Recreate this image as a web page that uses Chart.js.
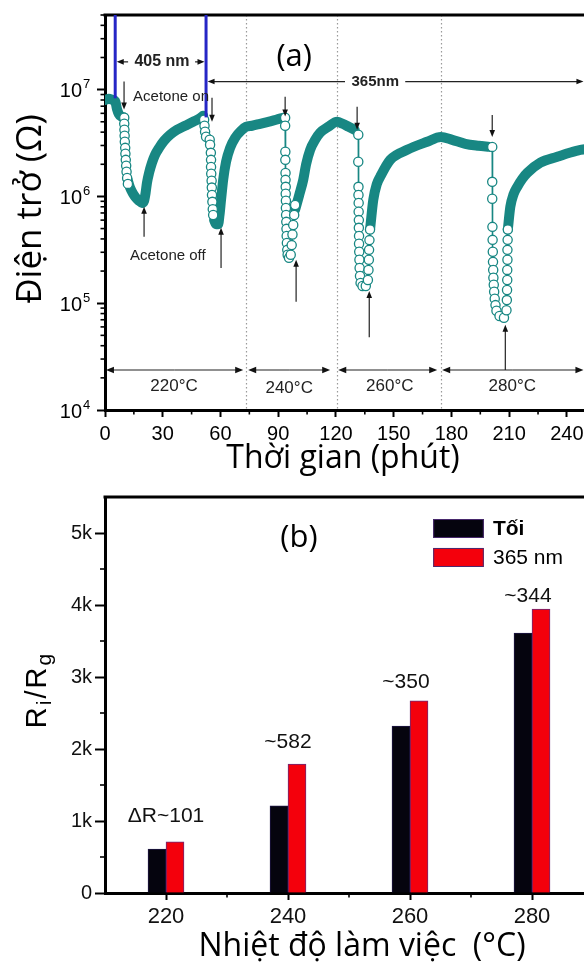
<!DOCTYPE html>
<html>
<head>
<meta charset="utf-8">
<script src="https://cdn.jsdelivr.net/npm/chart.js@4.4.1/dist/chart.umd.min.js"></script>
<style>
  html, body { margin: 0; padding: 0; background: #fff; overflow: hidden; }
  body { width: 584px; height: 962px; position: relative; }
  .panel { position: absolute; left: 0; width: 620px; }
  #panelA { top: 0; height: 485px; }
  #panelB { top: 470px; height: 492px; }
</style>
</head>
<body>
<div class="panel" id="panelA"><canvas id="resistanceChart" width="620" height="485"></canvas></div>
<div class="panel" id="panelB"><canvas id="responseChart" width="620" height="492"></canvas></div>
<script>
// ---------------------------------------------------------------
// (a) sensor resistance over time, one list per stretch of trace
// ---------------------------------------------------------------
// dense recovery stretches (drawn as a thick trace)
const traceMinutes = [
    [0, 2, 4, 5.3, 6.2, 7.2, 8.5, 9.8],
    [11.8, 13.0, 14.6, 16.1, 17.7, 19.2, 20.3, 21.1, 21.8, 22.9, 24.4, 26.0, 28.1, 30.7, 33.8, 37.4, 41.6, 45.8, 49.4, 51.0],
    [56.7, 57.7, 58.8, 59.5, 60.3, 61.4, 62.9, 65.0, 67.6, 70.7, 73.3, 76.4, 80.6, 84.8, 88.9, 92.6],
    [98.8, 100.9, 103.0, 104.5, 106.6, 109.2, 111.8, 116.0, 120.6, 123.5, 126.6, 129.7],
    [137.8, 139.4, 141.2, 143.0, 148.2, 157.0, 167.4, 174.5, 180.4, 187.2, 194.0, 199.8],
    [209.3, 210.6, 212.3, 214.2, 216.8, 219.4, 226.2, 235.0, 241.0, 247.0, 252.0],
];
const traceOhms = [
    [8.0e6, 8.2e6, 8.0e6, 7.8e6, 6.6e6, 5.9e6, 5.6e6, 5.5e6],
    [1.43e6, 1.21e6, 1.06e6, 9.7e5, 9.1e5, 8.7e5, 9.1e5, 1.08e6, 1.34e6, 1.66e6, 2.06e6, 2.45e6, 2.85e6, 3.32e6, 3.78e6, 4.21e6, 4.59e6, 5.0e6, 5.4e6, 5.7e6],
    [6.0e5, 5.5e5, 5.5e5, 6.7e5, 9.3e5, 1.43e6, 2.11e6, 2.85e6, 3.54e6, 4.12e6, 4.49e6, 4.59e6, 4.79e6, 5.0e6, 5.22e6, 5.46e6],
    [7.5e5, 1.03e6, 1.43e6, 2.0e6, 2.73e6, 3.39e6, 3.96e6, 4.49e6, 5.0e6, 4.79e6, 4.49e6, 4.21e6],
    [5.08e5, 9.3e5, 1.3e6, 1.53e6, 2.2e6, 2.73e6, 3.25e6, 3.6e6, 3.39e6, 3.11e6, 2.98e6, 2.91e6],
    [4.9e5, 8.0e5, 1.05e6, 1.23e6, 1.46e6, 1.66e6, 2.07e6, 2.35e6, 2.55e6, 2.73e6, 2.8e6],
];
// sparse readings while acetone is switched on/off (open circles)
const pulseMinutes = [
    [10.0, 10.0, 10.1, 10.2, 10.3, 10.5, 10.6, 10.8, 11.0, 11.2, 11.5, 11.9],
    [51.5, 51.7, 52.0, 52.5, 54.4, 54.6, 55.0, 55.1, 55.1, 55.2, 55.4, 55.5, 55.6, 55.8, 56.0, 56.2],
    [93.6, 93.6, 93.7, 93.7, 93.8, 93.8, 93.9, 93.9, 94.0, 94.0, 94.1, 94.2, 94.3, 94.4, 94.5, 94.7, 94.9, 95.6, 96.5, 97.0, 97.4, 97.8, 98.3, 98.8],
    [131.6, 131.6, 131.7, 131.7, 131.8, 131.8, 131.9, 131.9, 132.0, 132.0, 132.1, 132.2, 132.3, 132.5, 132.8, 133.8, 135.5, 136.6, 136.9, 137.1, 137.2, 137.4, 137.7],
    [201.2, 201.2, 201.2, 201.3, 201.4, 201.5, 201.6, 201.7, 201.8, 202.0, 202.2, 202.5, 202.9, 203.4, 205.0, 207.3, 208.6, 208.8, 208.9, 209.0, 209.0, 209.1, 209.1, 209.2, 209.3],
];
const pulseOhms = [
    [5.46e6, 4.79e6, 4.21e6, 3.70e6, 3.25e6, 2.85e6, 2.51e6, 2.20e6, 1.94e6, 1.70e6, 1.49e6, 1.31e6],
    [5.22e6, 4.59e6, 4.03e6, 3.62e6, 3.40e6, 3.05e6, 2.56e6, 2.20e6, 1.89e6, 1.63e6, 1.40e6, 1.21e6, 1.03e6, 8.9e5, 7.6e5, 6.7e5],
    [5.46e6, 4.59e6, 2.62e6, 2.20e6, 1.66e6, 1.43e6, 1.23e6, 1.06e6, 9.1e5, 7.8e5, 6.7e5, 5.78e5, 4.97e5, 4.27e5, 3.67e5, 3.16e5, 2.84e5, 2.66e5, 2.84e5, 3.5e5, 4.4e5, 5.4e5, 6.7e5, 8.3e5],
    [3.78e6, 2.11e6, 1.23e6, 1.03e6, 8.7e5, 7.2e5, 6.0e5, 5.08e5, 4.27e5, 3.6e5, 3.03e5, 2.55e5, 2.14e5, 1.8e5, 1.55e5, 1.45e5, 1.45e5, 1.65e5, 2.05e5, 2.55e5, 3.16e5, 3.9e5, 4.9e5],
    [2.91e6, 1.37e6, 9.5e5, 5.19e5, 3.92e5, 3.03e5, 2.44e5, 2.05e5, 1.73e5, 1.49e5, 1.28e5, 1.1e5, 9.6e4, 8.5e4, 7.6e4, 7.3e4, 8.6e4, 1.07e5, 1.33e5, 1.65e5, 2.05e5, 2.55e5, 3.16e5, 3.92e5, 4.9e5],
];
const minuteTicks = [0, 30, 60, 90, 120, 150, 180, 210, 240];
const decadeTicks = [1e4, 1e5, 1e6, 1e7];

// markers drawn over panel (a)
const lampMinutes = [5.3, 52.5];
const lampEndOhms = [8.3e6, 5.5e6];
const gasOnMinutes = [9.9, 55.6, 93.6, 131.0, 201.2];
const gasOnOhms = [[1.19e7, 6.5e6], [8.4e6, 5.0e6], [8.6e6, 5.6e6], [6.9e6, 4.2e6], [5.8e6, 3.6e6]];
const gasOffMinutes = [20.3, 60.3, 99.3, 137.3, 208.0];
const gasOffOhms = [[4.2e5, 8.0e5], [2.14e5, 5.1e5], [1.03e5, 2.55e5], [4.8e4, 1.3e5], [2.37e4, 6.3e4]];
const stageLabels = ['220°C', '240°C', '260°C', '280°C'];
const stageSpans = [[0.5, 71.8], [74.4, 117.0], [121.2, 172.6], [175.2, 248.6]];
const stageLabelMinutes = [35.9, 95.7, 148.0, 211.6];
const stageDividers = [73.3, 120.6, 174.7];

// ---------------------------------------------------------------
// (b) response ratio at each working temperature
// ---------------------------------------------------------------
const temperatures = [220, 240, 260, 280];
const darkRatio = [610, 1210, 2320, 3610];
const uvRatio = [710, 1790, 2670, 3944];
const deltaNotes = ['\u0394R~101', '~582', '~350', '~344'];
const deltaNoteRatio = [1070, 2100, 2930, 4120];
const ratioTicks = [0, 1000, 2000, 3000, 4000, 5000];
const seriesNames = ['Tối', '365 nm'];

const TEAL = '#188783';
const LAMP_BLUE = '#2626c6';
const ARIAL = '"Liberation Sans", Arial, sans-serif';
const TITLE = '"Open Sans", sans-serif';

function joinSegments(xs, ys) {
    const out = [];
    xs.forEach(function (seg, s) {
        seg.forEach(function (x, i) { out.push({ x: x, y: ys[s][i] }); });
        out.push({ x: seg[seg.length - 1], y: null });
    });
    return out;
}

function arrow(ctx, x1, y1, x2, y2, head) {
    const a = Math.atan2(y2 - y1, x2 - x1);
    const c = Math.cos(a), s = Math.sin(a);
    ctx.beginPath();
    ctx.moveTo(x1, y1);
    ctx.lineTo(x2 - c * head * 0.7, y2 - s * head * 0.7);
    ctx.stroke();
    ctx.beginPath();
    ctx.moveTo(x2, y2);
    ctx.lineTo(x2 - head * c + head * 0.4 * s, y2 - head * s - head * 0.4 * c);
    ctx.lineTo(x2 - head * c - head * 0.4 * s, y2 - head * s + head * 0.4 * c);
    ctx.closePath();
    ctx.fill();
}

function frameTop(ctx, area) {
    ctx.save();
    ctx.strokeStyle = '#000';
    ctx.lineWidth = 3;
    ctx.beginPath();
    ctx.moveTo(area.left - 1.5, area.top);
    ctx.lineTo(area.right + 2, area.top);
    ctx.stroke();
    ctx.restore();
}

const axisBorder = { display: true, color: '#000', width: 3 };

// ---------------- panel (a) overlay ----------------
const resistanceOverlay = {
    id: 'resistanceOverlay',
    beforeDatasetsDraw(chart) {
        const ctx = chart.ctx, x = chart.scales.x, area = chart.chartArea;
        ctx.save();
        ctx.strokeStyle = '#9a9a9a';
        ctx.lineWidth = 1.2;
        ctx.setLineDash([1.5, 2.5]);
        stageDividers.forEach(function (t) {
            const px = Math.round(x.getPixelForValue(t)) + 0.5;
            ctx.beginPath();
            ctx.moveTo(px, area.top);
            ctx.lineTo(px, area.bottom);
            ctx.stroke();
        });
        ctx.restore();
    },
    afterDraw(chart) {
        const ctx = chart.ctx, x = chart.scales.x, y = chart.scales.y, area = chart.chartArea;
        frameTop(ctx, area);
        ctx.save();

        // minor ticks
        ctx.strokeStyle = '#000';
        ctx.lineWidth = 1.6;
        for (let t = 15; t < 252; t += 30) {
            const px = x.getPixelForValue(t);
            ctx.beginPath(); ctx.moveTo(px, area.bottom); ctx.lineTo(px, area.bottom + 4.5); ctx.stroke();
        }
        for (let d = 4; d <= 7; d++) {
            for (let m = 2; m <= 9; m++) {
                const v = m * Math.pow(10, d);
                if (v > 5e7) break;
                const py = y.getPixelForValue(v);
                ctx.beginPath(); ctx.moveTo(area.left - 4.5, py); ctx.lineTo(area.left, py); ctx.stroke();
            }
        }

        // 10^n tick labels
        ctx.fillStyle = '#000';
        decadeTicks.forEach(function (v) {
            const py = y.getPixelForValue(v);
            ctx.font = '20px ' + ARIAL;
            ctx.textAlign = 'right';
            ctx.textBaseline = 'middle';
            ctx.fillText('10', area.left - 23, py + 2);
            ctx.font = '13px ' + ARIAL;
            ctx.textAlign = 'left';
            ctx.fillText(String(Math.round(Math.log10(v))), area.left - 22, py - 5);
        });

        // lamp markers
        ctx.strokeStyle = LAMP_BLUE;
        ctx.lineWidth = 3;
        lampMinutes.forEach(function (t, i) {
            const px = x.getPixelForValue(t);
            ctx.beginPath();
            ctx.moveTo(px, area.top);
            ctx.lineTo(px, y.getPixelForValue(lampEndOhms[i]));
            ctx.stroke();
        });

        ctx.strokeStyle = '#222';
        ctx.fillStyle = '#111';
        ctx.lineWidth = 1.2;
        // 405 nm span
        const y405 = y.getPixelForValue(1.82e7);
        arrow(ctx, x.getPixelForValue(12), y405, x.getPixelForValue(6.1), y405, 7);
        arrow(ctx, x.getPixelForValue(46.8), y405, x.getPixelForValue(51.7), y405, 7);
        // 365 nm span
        const y365 = y.getPixelForValue(1.19e7);
        arrow(ctx, x.getPixelForValue(124.7), y365, x.getPixelForValue(53.3), y365, 7);
        arrow(ctx, x.getPixelForValue(156), y365, x.getPixelForValue(248.6), y365, 7);

        // acetone on / off arrows
        gasOnMinutes.forEach(function (t, i) {
            const px = x.getPixelForValue(t);
            arrow(ctx, px, y.getPixelForValue(gasOnOhms[i][0]), px, y.getPixelForValue(gasOnOhms[i][1]), 7);
        });
        gasOffMinutes.forEach(function (t, i) {
            const px = x.getPixelForValue(t);
            arrow(ctx, px, y.getPixelForValue(gasOffOhms[i][0]), px, y.getPixelForValue(gasOffOhms[i][1]), 7);
        });

        // temperature stages
        const yStage = y.getPixelForValue(2.37e4);
        stageSpans.forEach(function (span) {
            const a = x.getPixelForValue(span[0]), b = x.getPixelForValue(span[1]);
            const mid = (a + b) / 2;
            arrow(ctx, mid, yStage, a, yStage, 8);
            arrow(ctx, mid, yStage, b, yStage, 8);
        });
        ctx.fillStyle = '#222';
        ctx.font = '17px ' + ARIAL;
        ctx.textAlign = 'center';
        ctx.textBaseline = 'middle';
        const yStageText = y.getPixelForValue(1.68e4);
        stageLabels.forEach(function (label, i) {
            ctx.fillText(label, x.getPixelForValue(stageLabelMinutes[i]), yStageText + (i === 1 ? 2 : 0));
        });

        // text notes
        ctx.font = 'bold 16px ' + ARIAL;
        ctx.fillText('405 nm', x.getPixelForValue(29.6), y405);
        ctx.font = 'bold 15px ' + ARIAL;
        ctx.fillText('365nm', x.getPixelForValue(140.4), y365);
        ctx.font = '15px ' + ARIAL;
        ctx.textAlign = 'left';
        ctx.fillText('Acetone on', x.getPixelForValue(14.6), y.getPixelForValue(8.57e6));
        ctx.fillText('Acetone off', x.getPixelForValue(13.0), y.getPixelForValue(2.77e5));

        // panel tag and axis titles
        ctx.fillStyle = '#000';
        ctx.textAlign = 'center';
        ctx.font = '31px ' + TITLE;
        ctx.fillText('(a)', x.getPixelForValue(98.3), y.getPixelForValue(2.03e7));
        ctx.font = '32px ' + TITLE;
        ctx.fillText('Thời gian (phút)', 343, 459);
        ctx.font = '35px ' + TITLE;
        ctx.translate(31, 209);
        ctx.rotate(-Math.PI / 2);
        ctx.fillText('Điện trở (Ω)', 0, 0);
        ctx.restore();
    },
};

new Chart(document.getElementById('resistanceChart'), {
    type: 'line',
    data: {
        datasets: [
            {
                label: 'pulse',
                data: joinSegments(pulseMinutes, pulseOhms),
                borderColor: TEAL,
                borderWidth: 1.5,
                pointRadius: 4.6,
                pointBorderWidth: 1.3,
                pointBackgroundColor: '#ffffff',
                pointBorderColor: TEAL,
                spanGaps: false,
            },
            {
                label: 'trace',
                data: joinSegments(traceMinutes, traceOhms),
                borderColor: TEAL,
                borderWidth: 10,
                borderCapStyle: 'round',
                borderJoinStyle: 'round',
                pointRadius: 0,
                cubicInterpolationMode: 'monotone',
                spanGaps: false,
            },
        ],
    },
    options: {
        responsive: false,
        animation: false,
        layout: { padding: { top: 15, right: 30, left: 0, bottom: 0 } },
        plugins: { legend: { display: false }, tooltip: { enabled: false } },
        scales: {
            x: {
                type: 'linear',
                min: 0,
                max: 252,
                afterBuildTicks: function (s) { s.ticks = minuteTicks.map(function (v) { return { value: v }; }); },
                afterFit: function (s) { s.height = 75; },
                border: axisBorder,
                grid: { drawOnChartArea: false, drawTicks: true, tickLength: 7, tickWidth: 2, tickColor: '#000' },
                ticks: { color: '#000', font: { family: ARIAL, size: 20 }, padding: 5, maxRotation: 0, autoSkip: false,
                    callback: function (v) { return String(v); } },
            },
            y: {
                type: 'logarithmic',
                min: 1e4,
                max: 5e7,
                afterBuildTicks: function (s) { s.ticks = decadeTicks.map(function (v) { return { value: v }; }); },
                afterFit: function (s) { s.width = 105; },
                border: axisBorder,
                grid: { drawOnChartArea: false, drawTicks: true, tickLength: 8, tickWidth: 2, tickColor: '#000' },
                ticks: { callback: function () { return ''; } },
            },
        },
    },
    plugins: [resistanceOverlay],
});

// ---------------- panel (b) overlay ----------------
const responseOverlay = {
    id: 'responseOverlay',
    afterDraw(chart) {
        const ctx = chart.ctx, x = chart.scales.x, y = chart.scales.y, area = chart.chartArea;
        frameTop(ctx, area);
        ctx.save();

        ctx.strokeStyle = '#000';
        ctx.lineWidth = 1.6;
        for (let v = 500; v < 5500; v += 1000) {
            const py = y.getPixelForValue(v);
            ctx.beginPath(); ctx.moveTo(area.left - 5, py); ctx.lineTo(area.left, py); ctx.stroke();
        }
        for (let t = 230; t < 290; t += 20) {
            const px = x.getPixelForValue(t);
            ctx.beginPath(); ctx.moveTo(px, area.bottom); ctx.lineTo(px, area.bottom + 4.5); ctx.stroke();
        }

        // notes above the bar pairs
        ctx.fillStyle = '#111';
        ctx.font = '21px ' + ARIAL;
        ctx.textAlign = 'center';
        ctx.textBaseline = 'middle';
        deltaNotes.forEach(function (note, i) {
            ctx.fillText(note, x.getPixelForValue(temperatures[i]) - (i > 1 ? 4 : 0), y.getPixelForValue(deltaNoteRatio[i]));
        });

        // legend
        const colors = chart.data.datasets.map(function (d) { return d.backgroundColor; });
        const lx = x.getPixelForValue(263.8), lw = x.getPixelForValue(272.1) - lx;
        [[5194, 4931], [4792, 4528]].forEach(function (r, i) {
            const top = y.getPixelForValue(r[0]), bot = y.getPixelForValue(r[1]);
            ctx.fillStyle = colors[i];
            ctx.fillRect(lx, top, lw, bot - top);
            ctx.strokeStyle = '#4a2a70';
            ctx.lineWidth = 1;
            ctx.strokeRect(lx + 0.5, top + 0.5, lw - 1, bot - top - 1);
            ctx.fillStyle = '#000';
            ctx.textAlign = 'left';
            ctx.font = (i === 0 ? 'bold ' : '') + '21px ' + ARIAL;
            ctx.fillText(seriesNames[i], x.getPixelForValue(273.6), (top + bot) / 2 + 1);
        });

        // panel tag and axis titles
        ctx.fillStyle = '#000';
        ctx.textAlign = 'center';
        ctx.font = '31px ' + TITLE;
        ctx.fillText('(b)', x.getPixelForValue(241.8), y.getPixelForValue(4930));
        ctx.font = '32px ' + TITLE;
        ctx.fillText('Nhiệt độ làm việc  (°C)', 362, 477);

        // R_i / R_g, rotated
        ctx.translate(46, 220);
        ctx.rotate(-Math.PI / 2);
        const parts = [['R', 29, 0], ['i', 21, 5], ['/', 29, 0], ['R', 29, 0], ['g', 21, 5]];
        let total = 0;
        parts.forEach(function (p) { ctx.font = p[1] + 'px ' + ARIAL; total += ctx.measureText(p[0]).width + 2; });
        let cx = -total / 2;
        ctx.textAlign = 'left';
        ctx.textBaseline = 'alphabetic';
        parts.forEach(function (p) {
            ctx.font = p[1] + 'px ' + ARIAL;
            ctx.fillText(p[0], cx, p[2]);
            cx += ctx.measureText(p[0]).width + 2;
        });
        ctx.restore();
    },
};

new Chart(document.getElementById('responseChart'), {
    type: 'bar',
    data: {
        datasets: [
            {
                label: seriesNames[0],
                data: temperatures.map(function (t, i) { return { x: t, y: darkRatio[i] }; }),
                backgroundColor: '#05040e',
                borderColor: '#1e1646',
                borderWidth: 1,
                barThickness: 18,
            },
            {
                label: seriesNames[1],
                data: temperatures.map(function (t, i) { return { x: t, y: uvRatio[i] }; }),
                backgroundColor: '#f4000c',
                borderColor: '#6a2a7a',
                borderWidth: 1,
                barThickness: 18,
            },
        ],
    },
    options: {
        responsive: false,
        animation: false,
        layout: { padding: { top: 27, right: 27, left: 0, bottom: 0 } },
        plugins: { legend: { display: false }, tooltip: { enabled: false } },
        scales: {
            x: {
                type: 'linear',
                min: 210,
                max: 290,
                offset: false,
                afterBuildTicks: function (s) { s.ticks = temperatures.map(function (v) { return { value: v }; }); },
                afterFit: function (s) { s.height = 69; },
                border: axisBorder,
                grid: { offset: false, drawOnChartArea: false, drawTicks: true, tickLength: 7, tickWidth: 2, tickColor: '#000' },
                ticks: { color: '#111', font: { family: ARIAL, size: 22 }, padding: 4, maxRotation: 0, autoSkip: false,
                    callback: function (v) { return String(v); } },
            },
            y: {
                min: 0,
                max: 5500,
                afterBuildTicks: function (s) { s.ticks = ratioTicks.map(function (v) { return { value: v }; }); },
                afterFit: function (s) { s.width = 105; },
                border: axisBorder,
                grid: { drawOnChartArea: false, drawTicks: true, tickLength: 10, tickWidth: 2, tickColor: '#000' },
                ticks: { color: '#111', font: { family: ARIAL, size: 20 }, padding: 3,
                    callback: function (v) { return v === 0 ? '0' : (v / 1000) + 'k'; } },
            },
        },
    },
    plugins: [responseOverlay],
});
</script>
</body>
</html>
